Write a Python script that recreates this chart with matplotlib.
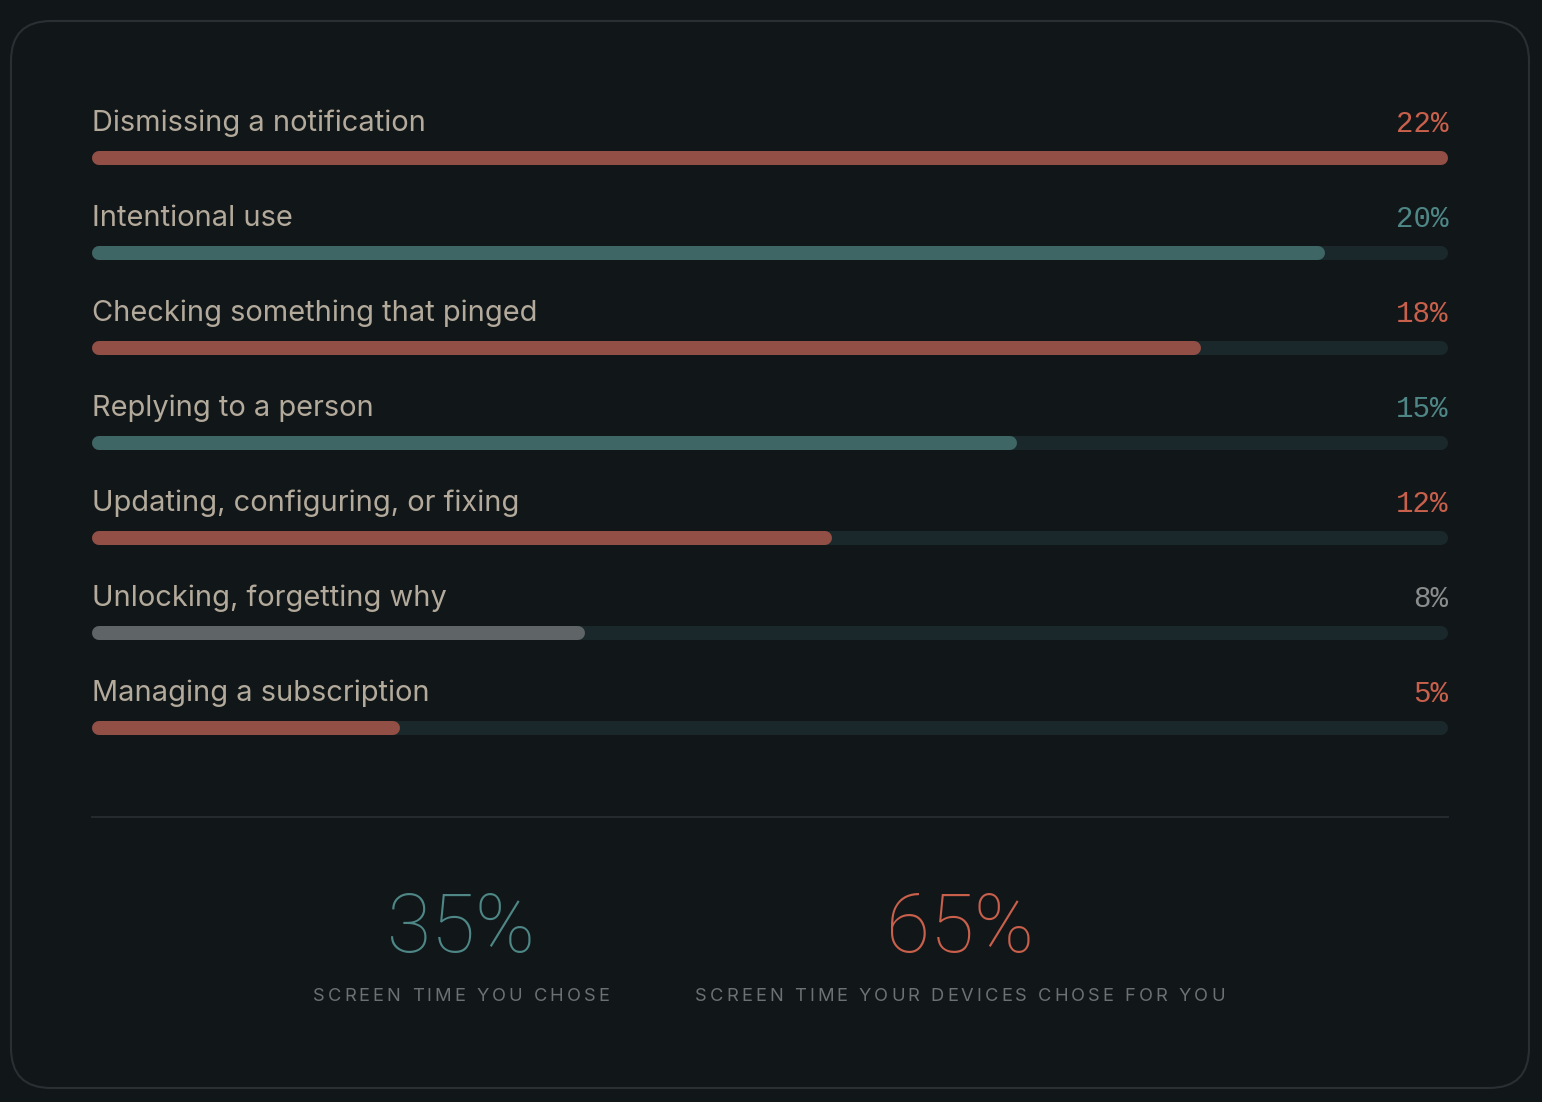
import matplotlib
matplotlib.use("Agg")
import matplotlib.pyplot as plt
from matplotlib.patches import FancyBboxPatch
from matplotlib.transforms import ScaledTranslation
from matplotlib.textpath import TextToPath
from matplotlib.font_manager import FontProperties

# ---------------- data ----------------
categories = [
    "Dismissing a notification",
    "Intentional use",
    "Checking something that pinged",
    "Replying to a person",
    "Updating, configuring, or fixing",
    "Unlocking, forgetting why",
    "Managing a subscription",
]
values = [22, 20, 18, 15, 12, 8, 5]
kinds = ["device", "chosen", "device", "chosen", "device", "neutral", "device"]
summary_values = [35, 65]
summary_labels = ["SCREEN TIME YOU CHOSE", "SCREEN TIME YOUR DEVICES CHOSE FOR YOU"]
summary_kinds = ["chosen", "device"]

# ---------------- style ----------------
BG = "#111619"
CARD_EDGE = "#2a2f33"
TRACK = "#1a282c"
LABEL = "#b3aa9b"
SUB = "#6c7174"
BAR_COL = {"device": "#924f45", "chosen": "#3e6664", "neutral": "#5f6467"}
TXT_COL = {"device": "#c8604b", "chosen": "#4e8786", "neutral": "#8b8c8c"}

W, H = 1542, 1102
DPI = 100
fig = plt.figure(figsize=(W / DPI, H / DPI), dpi=DPI, facecolor=BG)

# background axes in pixel coordinates
bg = fig.add_axes([0, 0, 1, 1])
bg.set_xlim(0, W)
bg.set_ylim(H, 0)
bg.axis("off")
card = FancyBboxPatch((11, 21), 1518, 1067, boxstyle="round,pad=0,rounding_size=40",
                      facecolor="#111619", edgecolor=CARD_EDGE, linewidth=1.5)
bg.add_patch(card)
bg.plot([92, 1448], [816.5, 816.5], color="#262b2f", lw=1.4)

# bars axes
left_px, right_px = 92, 1448
row_px = 95
first_center = 158
n = len(categories)
top_px = first_center - row_px
bottom_px = top_px + row_px * (n + 1)
ax = fig.add_axes([left_px / W, 1 - bottom_px / H, (right_px - left_px) / W, (bottom_px - top_px) / H])
ax.set_xlim(0, max(values))
ax.set_ylim(n, -1)
ax.axis("off")

bar_h_px = 14
lw_pt = bar_h_px * 72 / DPI
r_data = (bar_h_px / 2) / (right_px - left_px) * max(values)
vmax = max(values)

up = ScaledTranslation(0, 27 / DPI, fig.dpi_scale_trans)
up_pct = ScaledTranslation(0, 26 / DPI, fig.dpi_scale_trans)
for i, (cat, v, k) in enumerate(zip(categories, values, kinds)):
    ax.plot([r_data, vmax - r_data], [i, i], color=TRACK, lw=lw_pt,
            solid_capstyle="round", zorder=1)
    ax.plot([r_data, v - r_data], [i, i], color=BAR_COL[k], lw=lw_pt,
            solid_capstyle="round", zorder=2)
    ax.text(0, i, cat, transform=ax.transData + up, ha="left", va="baseline",
            fontsize=20.9, color=LABEL, family=["Inter", "DejaVu Sans"])
    ax.text(vmax, i, f"{v}%", transform=ax.transData + up_pct, ha="right", va="baseline",
            fontsize=21, color=TXT_COL[k], family=["Liberation Mono", "DejaVu Sans Mono"])

# summary
centers = [461, 960]
ttp = TextToPath()
sub_prop = FontProperties(family="Inter", size=13.2)


def tracked_text(xc, y, s, prop, tracking_px, color):
    widths = [ttp.get_text_width_height_descent(s[:j], prop, ismath=False)[0] * DPI / 72
              if j > 0 else 0.0 for j in range(len(s) + 1)]
    total = widths[-1] + tracking_px * (len(s) - 1)
    x0 = xc - total / 2
    for j, ch in enumerate(s):
        if ch == " ":
            continue
        bg.text(x0 + widths[j] + tracking_px * j, y, ch, fontproperties=prop,
                color=color, ha="left", va="baseline")


for xc, val, lab, k in zip(centers, summary_values, summary_labels, summary_kinds):
    bg.text(xc, 952, f"{val}%", ha="center", va="baseline", fontsize=58,
            color=TXT_COL[k], family=["Roboto", "DejaVu Sans"], fontweight="light")
    tracked_text(xc, 1001, lab, sub_prop, 3.0, SUB)

fig.savefig("out.png", dpi=DPI, facecolor=BG)
